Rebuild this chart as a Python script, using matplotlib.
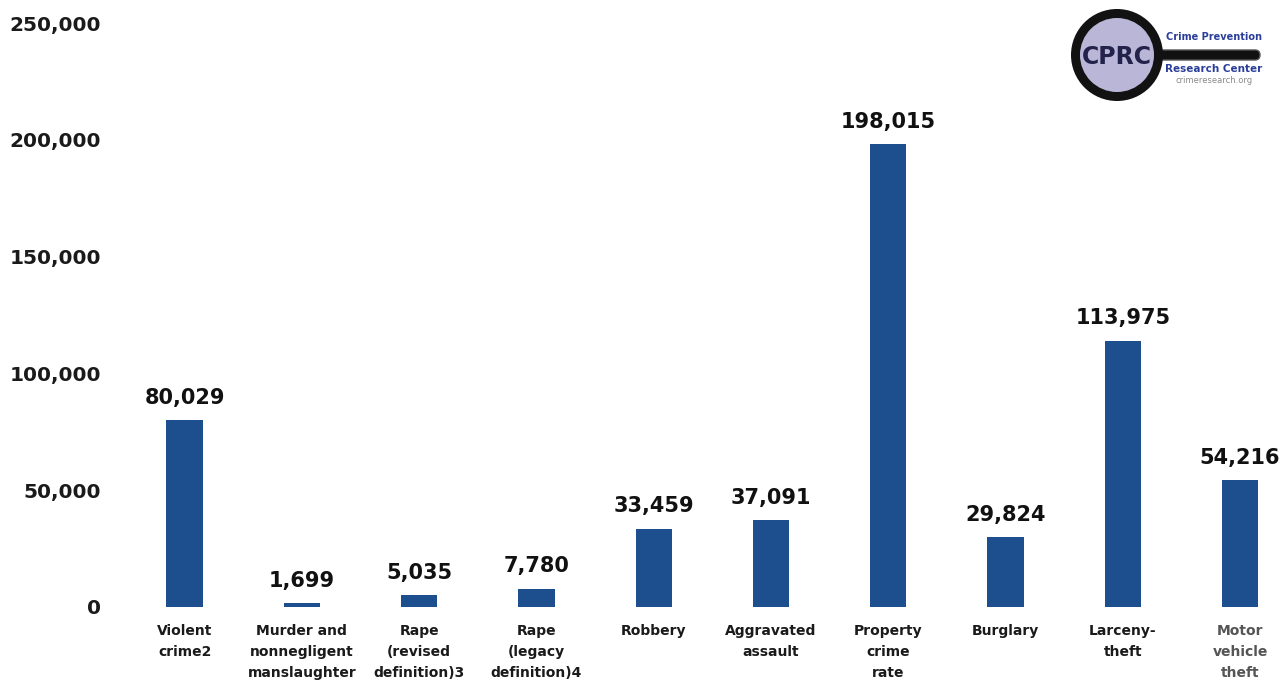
import matplotlib
matplotlib.use("Agg")
import matplotlib.pyplot as plt
from matplotlib.patches import Circle, FancyBboxPatch

categories = ["Violent\ncrime2", "Murder and\nnonnegligent\nmanslaughter",
              "Rape\n(revised\ndefinition)3", "Rape\n(legacy\ndefinition)4",
              "Robbery", "Aggravated\nassault", "Property\ncrime\nrate",
              "Burglary", "Larceny-\ntheft", "Motor\nvehicle\ntheft"]
values = [80029, 1699, 5035, 7780, 33459, 37091, 198015, 29824, 113975, 54216]
yticks = [0, 50000, 100000, 150000, 200000, 250000]

W, H = 1287, 685
fig = plt.figure(figsize=(W / 100, H / 100), dpi=100)
fig.patch.set_facecolor("white")

left = 126 / W
bottom = (H - 607) / H
top = (H - 23) / H
ax = fig.add_axes([left, bottom, 1.0 - left, top - bottom])

bar_color = "#1d4f8f"
x = list(range(len(categories)))
bars = ax.bar(x, values, width=0.31, color=bar_color)
for xi, v in zip(x, values):
    ax.annotate(f"{v:,}", (xi, v), xytext=(0, 9), textcoords="offset points",
                ha="center", va="bottom", fontsize=15, fontweight="bold",
                color="#111111")

ax.set_xlim(-0.5, 9.40)
ax.set_ylim(0, 250000)
ax.set_yticks(yticks)
ax.set_yticklabels([f"{t:,}" for t in yticks], fontsize=14.5,
                   fontweight="bold", color="#1a1a1a")
ax.set_xticks(x)
ax.set_xticklabels(categories, fontsize=10, fontweight="bold",
                   color="#1a1a1a", linespacing=1.65, va="top")
ax.get_xticklabels()[-1].set_color("#555555")
ax.tick_params(axis="both", length=0)
ax.tick_params(axis="x", pad=12)
ax.tick_params(axis="y", pad=18)
for s in ax.spines.values():
    s.set_visible(False)
ax.set_facecolor("white")

# logo
lax = fig.add_axes([0, 0, 1, 1], zorder=5)
lax.set_xlim(0, W)
lax.set_ylim(H, 0)
lax.axis("off")
lax.patch.set_alpha(0)
lax.add_patch(FancyBboxPatch((1150, 50), 110, 10, boxstyle="round,pad=0,rounding_size=5",
                             facecolor="#111111", edgecolor="#555555", lw=1))
lax.add_patch(Circle((1117, 55), 46, facecolor="#121212", edgecolor="none"))
lax.add_patch(Circle((1117, 55), 37, facecolor="#b9b6d8", edgecolor="none"))
lax.text(1117, 57, "CPRC", ha="center", va="center", fontsize=17,
         fontweight="bold", color="#23224a", family="DejaVu Sans Condensed")
lax.text(1214, 37, "Crime Prevention", ha="center", va="center", fontsize=7,
         fontweight="bold", color="#2b3f9a")
lax.text(1214, 69, "Research Center", ha="center", va="center", fontsize=7.5,
         fontweight="bold", color="#2b3f9a")
lax.text(1214, 80, "crimeresearch.org", ha="center", va="center", fontsize=6,
         color="#8a8a8a")

fig.savefig("out.png", dpi=100, facecolor="white")
